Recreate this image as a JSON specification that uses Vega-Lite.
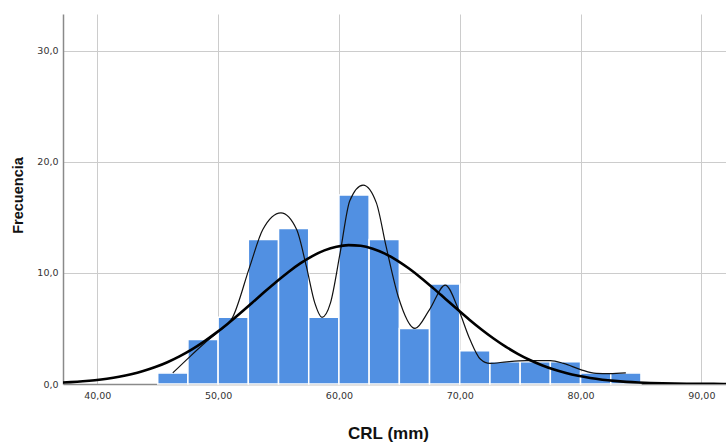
{
  "$schema": "https://vega.github.io/schema/vega-lite/v6.json",
  "width": 663,
  "height": 370,
  "autosize": {"type": "none"},
  "padding": {"left": 63, "top": 14, "right": 0, "bottom": 60},
  "background": "white",
  "config": {
    "view": {"stroke": null},
    "axis": {
      "labelFont": "DejaVu Sans",
      "labelFontSize": 9.5,
      "labelColor": "#333333",
      "gridColor": "#cccccc",
      "gridWidth": 1,
      "ticks": false,
      "domainColor": "#8a8a8a",
      "domainWidth": 1.5,
      "titleFont": "Liberation Sans",
      "titleFontWeight": "bold",
      "titleColor": "#111111"
    }
  },
  "datasets": {
    "bins": [
      {"start": 45.0, "end": 47.5, "count": 1},
      {"start": 47.5, "end": 50.0, "count": 4},
      {"start": 50.0, "end": 52.5, "count": 6},
      {"start": 52.5, "end": 55.0, "count": 13},
      {"start": 55.0, "end": 57.5, "count": 14},
      {"start": 57.5, "end": 60.0, "count": 6},
      {"start": 60.0, "end": 62.5, "count": 17},
      {"start": 62.5, "end": 65.0, "count": 13},
      {"start": 65.0, "end": 67.5, "count": 5},
      {"start": 67.5, "end": 70.0, "count": 9},
      {"start": 70.0, "end": 72.5, "count": 3},
      {"start": 72.5, "end": 75.0, "count": 2},
      {"start": 75.0, "end": 77.5, "count": 2},
      {"start": 77.5, "end": 80.0, "count": 2},
      {"start": 80.0, "end": 82.5, "count": 1},
      {"start": 82.5, "end": 85.0, "count": 1}
    ],
    "normal": [
      {"crl": 36.8, "freq": 0.115}, {"crl": 37.8, "freq": 0.168}, {"crl": 38.8, "freq": 0.241},
      {"crl": 39.8, "freq": 0.341}, {"crl": 40.8, "freq": 0.476}, {"crl": 41.8, "freq": 0.652},
      {"crl": 42.8, "freq": 0.879}, {"crl": 43.8, "freq": 1.168}, {"crl": 44.8, "freq": 1.526},
      {"crl": 45.8, "freq": 1.963}, {"crl": 46.8, "freq": 2.486}, {"crl": 47.8, "freq": 3.095},
      {"crl": 48.8, "freq": 3.795}, {"crl": 49.8, "freq": 4.577}, {"crl": 50.8, "freq": 5.431},
      {"crl": 51.8, "freq": 6.345}, {"crl": 52.8, "freq": 7.294}, {"crl": 53.8, "freq": 8.251},
      {"crl": 54.8, "freq": 9.186}, {"crl": 55.8, "freq": 10.065}, {"crl": 56.8, "freq": 10.853},
      {"crl": 57.8, "freq": 11.515}, {"crl": 58.8, "freq": 12.025}, {"crl": 59.8, "freq": 12.357},
      {"crl": 60.8, "freq": 12.496}, {"crl": 61.8, "freq": 12.436}, {"crl": 62.8, "freq": 12.18},
      {"crl": 63.8, "freq": 11.739}, {"crl": 64.8, "freq": 11.134}, {"crl": 65.8, "freq": 10.392},
      {"crl": 66.8, "freq": 9.548}, {"crl": 67.8, "freq": 8.63}, {"crl": 68.8, "freq": 7.677},
      {"crl": 69.8, "freq": 6.722}, {"crl": 70.8, "freq": 5.791}, {"crl": 71.8, "freq": 4.91},
      {"crl": 72.8, "freq": 4.097}, {"crl": 73.8, "freq": 3.364}, {"crl": 74.8, "freq": 2.718},
      {"crl": 75.8, "freq": 2.162}, {"crl": 76.8, "freq": 1.692}, {"crl": 77.8, "freq": 1.303},
      {"crl": 78.8, "freq": 0.987}, {"crl": 79.8, "freq": 0.736}, {"crl": 80.8, "freq": 0.54},
      {"crl": 81.8, "freq": 0.39}, {"crl": 82.8, "freq": 0.278}, {"crl": 83.8, "freq": 0.194},
      {"crl": 84.8, "freq": 0.134}, {"crl": 85.8, "freq": 0.091}, {"crl": 86.8, "freq": 0.06},
      {"crl": 87.8, "freq": 0.04}, {"crl": 88.8, "freq": 0.026}, {"crl": 89.8, "freq": 0.016},
      {"crl": 90.8, "freq": 0.01}, {"crl": 91.8, "freq": 0.006}, {"crl": 92.8, "freq": 0.004}
    ],
    "smooth": [
      {"crl": 46.25, "freq": 1.0}, {"crl": 47.6, "freq": 2.4}, {"crl": 48.8, "freq": 3.6},
      {"crl": 50.0, "freq": 4.7}, {"crl": 51.2, "freq": 6.0}, {"crl": 52.6, "freq": 10.5},
      {"crl": 53.7, "freq": 13.9}, {"crl": 55.2, "freq": 15.4}, {"crl": 56.5, "freq": 13.9},
      {"crl": 57.3, "freq": 10.6}, {"crl": 58.0, "freq": 7.3}, {"crl": 58.6, "freq": 6.0},
      {"crl": 59.3, "freq": 7.3}, {"crl": 60.1, "freq": 11.8}, {"crl": 60.9, "freq": 16.5},
      {"crl": 62.0, "freq": 17.9}, {"crl": 63.1, "freq": 16.3}, {"crl": 63.9, "freq": 12.4},
      {"crl": 64.9, "freq": 7.9}, {"crl": 66.3, "freq": 5.0}, {"crl": 67.5, "freq": 6.7},
      {"crl": 68.8, "freq": 8.9}, {"crl": 69.9, "freq": 6.7}, {"crl": 70.85, "freq": 4.0},
      {"crl": 71.7, "freq": 2.25}, {"crl": 72.5, "freq": 1.85}, {"crl": 73.9, "freq": 2.0},
      {"crl": 75.5, "freq": 2.1}, {"crl": 77.5, "freq": 2.1}, {"crl": 78.6, "freq": 1.85},
      {"crl": 80.0, "freq": 1.3}, {"crl": 81.3, "freq": 0.95}, {"crl": 82.4, "freq": 0.93},
      {"crl": 83.75, "freq": 1.0}
    ]
  },
  "layer": [
    {
      "data": {"name": "bins"},
      "mark": {"type": "bar", "color": "#5190E2", "stroke": "white", "strokeWidth": 1.5},
      "encoding": {
        "x": {
          "field": "start", "type": "quantitative",
          "scale": {"domain": [37.16, 92.04], "nice": false, "zero": false},
          "axis": {
            "values": [40, 50, 60, 70, 80, 90],
            "labelExpr": "replace(format(datum.value, '.2f'), '.', ',')",
            "labelPadding": 6,
            "title": "CRL (mm)",
            "titleFontSize": 17,
            "titleX": 325,
            "titleY": 49,
            "titleBaseline": "middle",
            "titleAnchor": "middle",
            "titleAlign": "center"
          }
        },
        "x2": {"field": "end"},
        "y": {
          "field": "count", "type": "quantitative",
          "scale": {"domain": [0, 33.3], "nice": false},
          "axis": {
            "values": [0, 10, 20, 30],
            "labelExpr": "replace(format(datum.value, '.1f'), '.', ',')",
            "labelPadding": 5,
            "title": "Frecuencia",
            "titleFontSize": 14.5,
            "titleAngle": -90,
            "titleX": -45,
            "titleY": 181,
            "titleBaseline": "middle",
            "titleAlign": "center"
          }
        },
        "y2": {"datum": 0}
      }
    },
    {
      "data": {"name": "smooth"},
      "mark": {"type": "line", "color": "#111111", "strokeWidth": 1.2, "interpolate": "monotone"},
      "encoding": {
        "x": {"field": "crl", "type": "quantitative"},
        "y": {"field": "freq", "type": "quantitative"}
      }
    },
    {
      "data": {"name": "normal"},
      "mark": {"type": "line", "color": "#000000", "strokeWidth": 2.6, "interpolate": "monotone", "clip": true},
      "encoding": {
        "x": {"field": "crl", "type": "quantitative"},
        "y": {"field": "freq", "type": "quantitative"}
      }
    }
  ]
}
